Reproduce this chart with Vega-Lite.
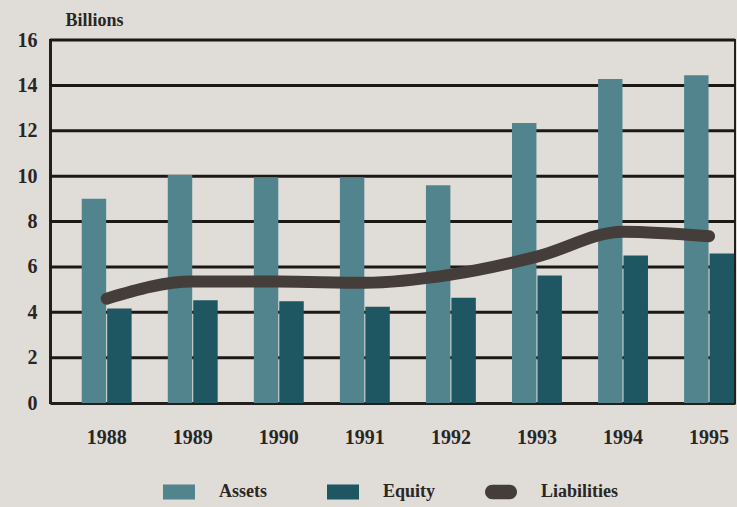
{
  "$schema": "https://vega.github.io/schema/vega-lite/v6.json",
  "width": 685,
  "height": 363,
  "autosize": {"type": "none"},
  "padding": {"left": 50, "top": 40, "right": 2, "bottom": 104},
  "background": "#e0ddd9",
  "config": {
    "view": {"stroke": "#231f1d", "strokeWidth": 2},
    "font": "Liberation Serif"
  },
  "datasets": {
    "main": [
      {"year": "1988", "Assets": 9.0, "Equity": 4.16, "Liabilities": 4.6},
      {"year": "1989", "Assets": 10.05, "Equity": 4.53, "Liabilities": 5.35},
      {"year": "1990", "Assets": 9.95, "Equity": 4.49, "Liabilities": 5.35},
      {"year": "1991", "Assets": 9.95, "Equity": 4.24, "Liabilities": 5.3},
      {"year": "1992", "Assets": 9.6, "Equity": 4.64, "Liabilities": 5.66},
      {"year": "1993", "Assets": 12.34, "Equity": 5.62, "Liabilities": 6.45},
      {"year": "1994", "Assets": 14.28, "Equity": 6.5, "Liabilities": 7.55},
      {"year": "1995", "Assets": 14.45, "Equity": 6.59, "Liabilities": 7.35}
    ],
    "grid": [
      {"level": 2}, {"level": 4}, {"level": 6}, {"level": 8},
      {"level": 10}, {"level": 12}, {"level": 14}, {"level": 16}
    ]
  },
  "data": {"name": "main"},
  "layer": [
    {
      "data": {"name": "grid"},
      "mark": {"type": "rule", "color": "#1c1816", "strokeWidth": 3},
      "encoding": {
        "y": {
          "field": "level",
          "type": "quantitative",
          "scale": {"domain": [0, 16], "nice": false},
          "axis": {
            "title": "Billions",
            "titleAngle": 0,
            "titleAlign": "left",
            "titleBaseline": "middle",
            "titleX": 15,
            "titleY": -20,
            "titleFont": "Liberation Serif",
            "titleFontWeight": "bold",
            "titleFontSize": 18,
            "titleColor": "#2a2624",
            "values": [0, 2, 4, 6, 8, 10, 12, 14, 16],
            "grid": false,
            "labelFont": "Liberation Serif",
            "labelFontWeight": "bold",
            "labelFontSize": 20,
            "labelColor": "#2a2624",
            "labelPadding": 13,
            "ticks": false,
            "domainColor": "#231f1d",
            "domainWidth": 3
          }
        }
      }
    },
    {
      "transform": [{"fold": ["Assets", "Equity"], "as": ["series", "value"]}],
      "mark": {"type": "bar"},
      "encoding": {
        "x": {
          "field": "year",
          "type": "nominal",
          "scale": {"paddingInner": 0.42, "paddingOuter": 0.19, "align": 0.97},
          "axis": {
            "title": null,
            "labelAngle": 0,
            "labelFont": "Liberation Serif",
            "labelFontWeight": "bold",
            "labelFontSize": 20,
            "labelColor": "#2a2624",
            "labelPadding": 24,
            "ticks": false,
            "domainColor": "#231f1d",
            "domainWidth": 3
          }
        },
        "xOffset": {"field": "series", "type": "nominal", "scale": {"paddingInner": 0.04, "paddingOuter": 0}},
        "y": {"field": "value", "type": "quantitative"},
        "fill": {
          "field": "series",
          "type": "nominal",
          "scale": {"domain": ["Assets", "Equity"], "range": ["#52848e", "#1e5661"]},
          "legend": {
            "title": null,
            "orient": "none",
            "direction": "horizontal",
            "legendX": 113,
            "legendY": 436,
            "padding": 0,
            "symbolType": "M-1,-0.47H1V0.47H-1Z",
            "symbolSize": 1024,
            "symbolStrokeWidth": 0,
            "labelOffset": 24,
            "labelFont": "Liberation Serif",
            "labelFontWeight": "bold",
            "labelFontSize": 18,
            "labelColor": "#2a2624",
            "columnPadding": 60
          }
        }
      }
    },
    {
      "mark": {"type": "line", "strokeWidth": 12, "strokeCap": "round", "strokeJoin": "round", "interpolate": "monotone"},
      "encoding": {
        "x": {"field": "year", "type": "nominal"},
        "y": {"field": "Liabilities", "type": "quantitative"},
        "stroke": {
          "datum": "Liabilities",
          "type": "nominal",
          "scale": {"range": ["#453d3a"]},
          "legend": {
            "title": null,
            "orient": "none",
            "legendX": 435,
            "legendY": 436,
            "padding": 0,
            "symbolType": "M-0.55,-0.45H0.55A0.45,0.45 0 0 1 0.55,0.45H-0.55A0.45,0.45 0 0 1 -0.55,-0.45Z",
            "symbolSize": 1024,
            "symbolFillColor": "#453d3a",
            "symbolStrokeWidth": 0,
            "labelOffset": 24,
            "labelFont": "Liberation Serif",
            "labelFontWeight": "bold",
            "labelFontSize": 18,
            "labelColor": "#2a2624"
          }
        }
      }
    }
  ]
}
